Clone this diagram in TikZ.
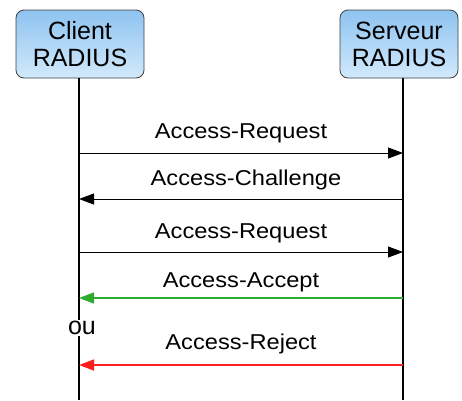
\documentclass[tikz,border=0pt]{standalone}
\usepackage{fontspec}
\setmainfont{Liberation Sans}
\usetikzlibrary{arrows.meta}
\definecolor{boxtop}{HTML}{8EC3F0}
\definecolor{boxbot}{HTML}{D2E9FB}
\definecolor{okgreen}{HTML}{2EAA2E}
\definecolor{nored}{HTML}{FF1E1E}
\begin{document}
\begin{tikzpicture}[x=1pt,y=-1pt,
  actor/.style={draw=black!75, line width=0.8pt, rounded corners=8pt, top color=boxtop, bottom color=boxbot,
    minimum width=#1, minimum height=68pt, align=center, inner sep=0pt,
    font=\fontsize{25}{27}\selectfont},
  life/.style={line width=1.2pt, black},
  msg/.style={line width=0.9pt, -{Triangle[length=15pt,width=11pt]}},
  lbl/.style={font=\fontsize{21.5}{24}\selectfont, xscale=1.1, inner sep=0pt}]
\useasboundingbox (0,0) rectangle (462,400);
\node[actor=128pt] (client) at (80,44) {Client\\RADIUS};
\node[actor=118pt] (server) at (399,44) {Serveur\\RADIUS};
\coordinate (cb) at (79,400);
\coordinate (sb) at (403,400);
\draw[life] (client.south -| cb) -- (cb);
\draw[life] (server.south -| sb) -- (sb);
% messages
\coordinate (c1) at (79,153); \coordinate (s1) at (403,153);
\coordinate (c2) at (79,199); \coordinate (s2) at (403,199);
\coordinate (c3) at (79,252); \coordinate (s3) at (403,252);
\coordinate (c4) at (79,298); \coordinate (s4) at (403,298);
\coordinate (c5) at (79,365); \coordinate (s5) at (403,365);
\draw[msg] (c1) -- (s1);
\draw[msg] (s2) -- (c2);
\draw[msg] (c3) -- (s3);
\draw[msg, okgreen, line width=1.3pt] (s4) -- (c4);
\draw[msg, nored, line width=1.3pt] (s5) -- (c5);
\node[lbl] (l1) at (241,133) {Access-Request};
\node[lbl] (l2) at (246,180) {Access-Challenge};
\node[lbl] (l3) at (241,233) {Access-Request};
\node[lbl] (l4) at (241,282) {Access-Accept};
\node[lbl] (l5) at (241,344) {Access-Reject};
\node[font=\fontsize{25}{27}\selectfont, fill=white, inner sep=1pt] (ou) at (82,328) {ou};
\end{tikzpicture}
\end{document}
